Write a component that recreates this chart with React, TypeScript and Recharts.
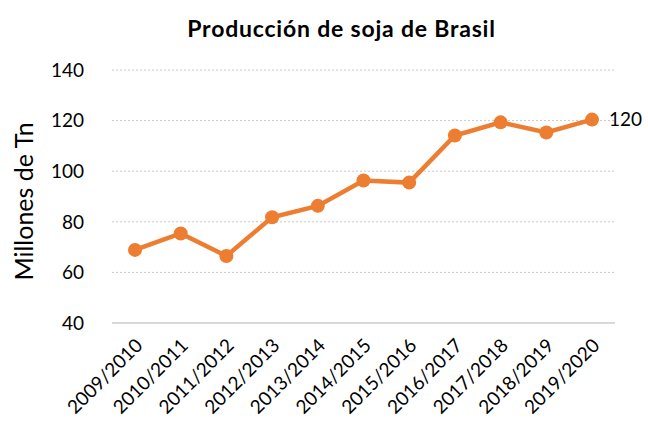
import React from "react";
import {
  LineChart,
  Line,
  XAxis,
  YAxis,
  CartesianGrid,
  LabelList,
  ReferenceLine,
} from "recharts";

const seasons: string[] = [
  "2009/2010",
  "2010/2011",
  "2011/2012",
  "2012/2013",
  "2013/2014",
  "2014/2015",
  "2015/2016",
  "2016/2017",
  "2017/2018",
  "2018/2019",
  "2019/2020",
];
const production: number[] = [68.9, 75.4, 66.5, 81.8, 86.3, 96.3, 95.5, 114.1, 119.3, 115.3, 120.4];
const yTicks: number[] = [40, 60, 80, 100, 120, 140];

interface SojaRow {
  season: string;
  value: number;
}
const data: SojaRow[] = seasons.map((season, i) => ({ season, value: production[i] }));

const FONT = "Lato, 'Liberation Sans', sans-serif";
const ORANGE = "#ED7D31";

const SeasonTick = (props: any) => {
  const { x, payload } = props;
  return (
    <g transform={`translate(${x + 4},${342})`}>
      <text
        x={0}
        y={0}
        dy="0.35em"
        textAnchor="end"
        transform="rotate(-45)"
        fontSize={19}
        fontFamily={FONT}
        fill="#000"
      >
        {payload.value}
      </text>
    </g>
  );
};

const LastLabel = (props: any) => {
  const { x, y, index, value } = props;
  if (index !== data.length - 1) return null;
  return (
    <text x={x + 17} y={y} dy="0.36em" fontSize={19} fontFamily={FONT} fill="#000">
      {Math.round(value)}
    </text>
  );
};

const YLabel = (props: any) => {
  const { viewBox } = props;
  const cx = 23;
  const cy = viewBox.y + viewBox.height / 2 + 5;
  return (
    <text
      x={cx}
      y={cy}
      textAnchor="middle"
      dominantBaseline="central"
      transform={`rotate(-90, ${cx}, ${cy})`}
      fontSize={25}
      fontFamily={FONT}
      fill="#000"
    >
      Millones de Tn
    </text>
  );
};

export default function App() {
  return (
    <div style={{ position: "absolute", left: 0, top: 0, width: 648, height: 422, background: "#fff" }}>
      <div
        style={{
          position: "absolute",
          top: 14,
          left: 0,
          width: 683,
          textAlign: "center",
          fontFamily: FONT,
          fontWeight: 700,
          fontSize: 23,
          letterSpacing: 0.8,
          lineHeight: "28px",
          color: "#000",
        }}
      >
        Producción de soja de Brasil
      </div>
      <LineChart width={648} height={422} data={data} margin={{ top: 70, right: 33, left: 0, bottom: 0 }}>
        <CartesianGrid vertical={false} stroke="#c8c8c8" strokeDasharray="2 2" />
        <XAxis
          dataKey="season"
          height={99}
          axisLine={false}
          tickLine={false}
          tick={<SeasonTick />}
          interval={0}
          padding={{ left: 23, right: 23 }}
        />
        <YAxis
          width={112}
          domain={[40, 140]}
          ticks={yTicks}
          axisLine={false}
          tickLine={false}
          tick={{ fontSize: 19, fontFamily: FONT, fill: "#000" }}
          tickMargin={22}
          label={<YLabel />}
        />
        <ReferenceLine y={40} stroke="#d9d9d9" strokeWidth={2} />
        <Line
          type="linear"
          dataKey="value"
          stroke={ORANGE}
          strokeWidth={4.5}
          dot={{ r: 7, fill: ORANGE, stroke: ORANGE, strokeWidth: 0 }}
          activeDot={false}
          isAnimationActive={false}
        >
          <LabelList dataKey="value" content={<LastLabel />} />
        </Line>
      </LineChart>
    </div>
  );
}
